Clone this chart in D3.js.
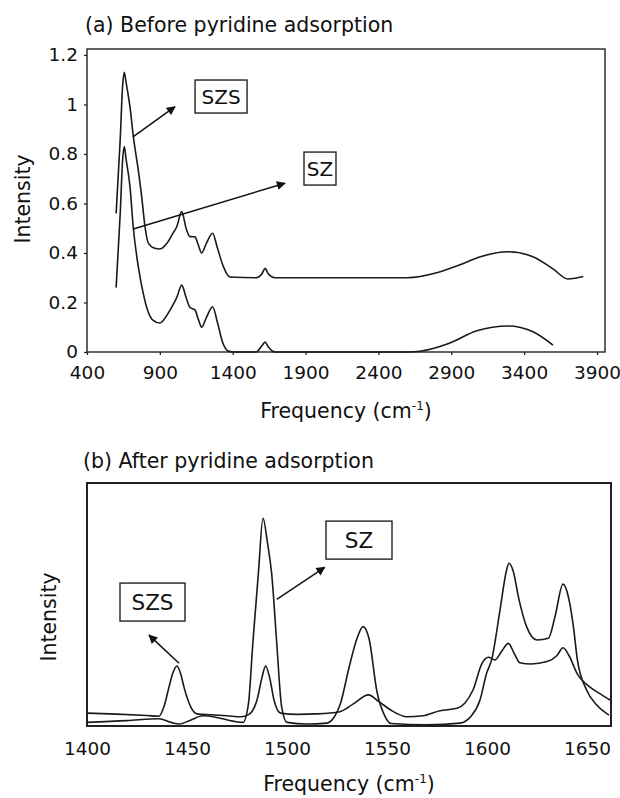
<!DOCTYPE html>
<html>
<head>
<meta charset="utf-8">
<script src="https://cdn.jsdelivr.net/npm/d3@7"></script>
<style>
  body { margin: 0; background: #fff; }
  svg { display: block; font-family: "DejaVu Sans", sans-serif; }
</style>
</head>
<body>
<div id="canvas"></div>
<script>
"use strict";

/* === Data: (a) before pyridine adsorption, [frequency, intensity] === */
let szBefore = [
  [600, 0.26], [628, 0.56], [645, 0.78], [656, 0.83], [668, 0.78], [695, 0.668],
  [718, 0.50], [752, 0.345], [786, 0.237], [810, 0.18], [850, 0.13], [901, 0.117],
  [950, 0.15], [990, 0.19], [1016, 0.22], [1050, 0.27], [1080, 0.22], [1107, 0.18],
  [1141, 0.17], [1165, 0.13], [1187, 0.10], [1220, 0.14], [1262, 0.183], [1295, 0.12],
  [1330, 0.04], [1365, 0.005], [1400, 0], [1560, 0], [1600, 0.025], [1622, 0.04],
  [1645, 0.02], [1690, 0], [2600, 0], [2685, 0.003], [2891, 0.036], [3075, 0.086],
  [3290, 0.105], [3461, 0.082], [3598, 0.028]
];

let szsBefore = [
  [600, 0.56], [628, 0.86], [645, 1.08], [656, 1.13], [668, 1.09], [695, 0.99],
  [718, 0.87], [752, 0.735], [775, 0.63], [798, 0.506], [821, 0.44], [860, 0.42],
  [901, 0.416], [950, 0.44], [990, 0.48], [1016, 0.506], [1050, 0.567], [1080, 0.50],
  [1107, 0.466], [1141, 0.465], [1165, 0.43], [1187, 0.40], [1220, 0.44], [1262, 0.48],
  [1295, 0.42], [1336, 0.345], [1381, 0.303], [1560, 0.30], [1600, 0.315], [1622, 0.338],
  [1645, 0.315], [1690, 0.30], [2600, 0.30], [2800, 0.32], [2950, 0.35], [3100, 0.385],
  [3290, 0.405], [3460, 0.385], [3600, 0.335], [3700, 0.295], [3750, 0.298], [3806, 0.305]
];

/* === Data: (b) after pyridine adsorption, [frequency, intensity (a.u.)] === */
let szAfter = [
  [1400, 1.5], [1420, 2.2], [1436, 3.0], [1442, 1.5], [1446, 0.8], [1452, 2.5],
  [1458, 4.2], [1465, 3.5], [1473, 2], [1478, 1.5], [1480.7, 9], [1483, 35],
  [1485.7, 63], [1488, 85.5], [1490.3, 75], [1492.3, 63], [1494.8, 35], [1497.3, 8],
  [1500, 1.5], [1510, 0.8], [1520, 1.2], [1523, 3], [1527, 10], [1531, 24], [1535, 36],
  [1538, 40.9], [1541, 36], [1545, 14], [1549, 4], [1552, 1], [1570, 0.5], [1586.5, 1.2],
  [1592, 4], [1596.5, 10.7], [1599.8, 21.7], [1602.3, 27.2], [1606.5, 47.7], [1609.8, 64.2],
  [1611, 67], [1613, 64], [1616, 52], [1619.8, 40.9], [1625, 35.4], [1630.7, 36.1],
  [1634, 45], [1638, 58.4], [1641, 52], [1643.2, 40.9], [1645.2, 27.2], [1649.8, 14.8],
  [1655, 8.5], [1661, 4.5]
];

let szsAfter = [
  [1400, 5.3], [1415, 4.9], [1430, 4.3], [1436, 4.0], [1438.5, 8], [1441, 16], [1443, 22],
  [1445, 24.7], [1447, 21], [1448.5, 16], [1451.8, 8], [1455, 5], [1462, 4.6], [1470, 4.2],
  [1477, 3.8], [1481, 4.8], [1485, 10.7], [1487.5, 20], [1489.3, 24.7], [1491.3, 20],
  [1493.5, 10.7], [1496.8, 5.3], [1505, 4.8], [1515, 5], [1526.5, 5.9], [1533, 9],
  [1540.7, 12.8], [1546, 10], [1552, 6.5], [1560, 3.8], [1568, 4.2], [1576.5, 6.3],
  [1585, 7.3], [1589, 9.5], [1593, 14.8], [1597.5, 25.8], [1600.7, 28.3], [1604, 27.2],
  [1607.5, 31], [1610.7, 34], [1613.5, 30], [1616.5, 26], [1622, 25.5], [1630, 26.5],
  [1635, 29], [1638, 32.2], [1641, 29], [1645, 21.7], [1651.5, 16], [1656, 13.5],
  [1661.5, 10.7]
];

/* === Tick labels === */
let xTicksA = [400, 900, 1400, 1900, 2400, 2900, 3400, 3900];
let yTicksA = [0, 0.2, 0.4, 0.6, 0.8, 1, 1.2];
let xTicksB = [1400, 1450, 1500, 1550, 1600, 1650];

/* === Series names and panel titles === */
let seriesNames = ["SZ", "SZS"];
let titles = ["(a) Before pyridine adsorption", "(b) After pyridine adsorption"];

let svgWidth = 620;
let svgHeight = 798;

let svg = d3.select("#canvas")
  .append("svg")
  .attr("width", svgWidth)
  .attr("height", svgHeight);

svg.append("defs").append("marker")
  .attr("id", "head")
  .attr("viewBox", "0 0 10 10")
  .attr("refX", 9)
  .attr("refY", 5)
  .attr("markerWidth", 10)
  .attr("markerHeight", 9)
  .attr("markerUnits", "userSpaceOnUse")
  .attr("orient", "auto")
  .append("path")
  .attr("d", "M0,0 L10,5 L0,10 Z")
  .attr("fill", "#111");

/* === Scales === */
let xA = d3.scaleLinear().domain([400, 3955]).range([87, 605]);
let yA = d3.scaleLinear().domain([0, 1.224]).range([352, 49]);
let xB = d3.scaleLinear().domain([1400, 1662]).range([87, 611]);
let yB = d3.scaleLinear().domain([0, 100]).range([726, 483]);

function drawPanel(opt) {
  let x = opt.x, y = opt.y;
  let [x0, x1] = x.range();
  let [y0, y1] = y.range();

  // frame
  svg.append("rect")
    .attr("x", x0).attr("y", y1)
    .attr("width", x1 - x0).attr("height", y0 - y1)
    .attr("fill", "none")
    .attr("stroke", "#222")
    .attr("stroke-width", opt.frameWidth);

  // x axis
  let gx = svg.append("g")
    .attr("transform", `translate(0, ${y0})`)
    .call(d3.axisBottom(x).tickValues(opt.xTicks).tickFormat(d3.format("d"))
      .tickSize(opt.tickSize).tickSizeOuter(0).tickPadding(opt.xPad));
  gx.select(".domain").remove();

  if (opt.yTicks) {
    let gy = svg.append("g")
      .attr("transform", `translate(${x0}, 0)`)
      .call(d3.axisLeft(y).tickValues(opt.yTicks).tickFormat(d3.format("~g"))
        .tickSize(opt.tickSize).tickSizeOuter(0).tickPadding(6));
    gy.select(".domain").remove();
  }

  svg.selectAll("g.tick text")
    .attr("font-family", "DejaVu Sans, sans-serif")
    .attr("font-size", "18.5px")
    .attr("fill", "#111");
  svg.selectAll("g.tick line").attr("stroke", "#222").attr("stroke-width", 1.3);

  // curves
  let line = d3.line()
    .x(d => x(d[0]))
    .y(d => y(d[1]))
    .curve(d3.curveMonotoneX);

  opt.series.forEach(s => {
    svg.append("path")
      .attr("d", line(s))
      .attr("fill", "none")
      .attr("stroke", "#1a1a1a")
      .attr("stroke-width", 1.6)
      .attr("stroke-linejoin", "round");
  });

  // boxed series names with arrows
  opt.labels.forEach(l => {
    svg.append("line")
      .attr("x1", x(l.from[0])).attr("y1", y(l.from[1]))
      .attr("x2", x(l.to[0])).attr("y2", y(l.to[1]))
      .attr("stroke", "#111")
      .attr("stroke-width", 1.5)
      .attr("marker-end", "url(#head)");

    let cx = x(l.at[0]), cy = y(l.at[1]);
    svg.append("rect")
      .attr("x", cx - l.size[0] / 2)
      .attr("y", cy - l.size[1] / 2)
      .attr("width", l.size[0])
      .attr("height", l.size[1])
      .attr("fill", "#fff")
      .attr("stroke", "#222")
      .attr("stroke-width", 1.4);

    svg.append("text")
      .attr("x", cx)
      .attr("y", cy)
      .attr("text-anchor", "middle")
      .attr("dominant-baseline", "central")
      .attr("font-size", opt.boxFont)
      .attr("fill", "#111")
      .text(l.text);
  });

  // titles
  svg.append("text")
    .attr("x", opt.title.x)
    .attr("y", opt.title.y)
    .attr("font-size", "20.5px")
    .attr("fill", "#111")
    .text(opt.title.text);

  svg.append("text")
    .attr("transform", `translate(${opt.yLabel.x}, ${opt.yLabel.y}) rotate(-90)`)
    .attr("text-anchor", "middle")
    .attr("font-size", "20.5px")
    .attr("fill", "#111")
    .text("Intensity");

  let xl = svg.append("text")
    .attr("x", (x0 + x1) / 2)
    .attr("y", opt.xLabelY)
    .attr("text-anchor", "middle")
    .attr("font-size", "20.5px")
    .attr("fill", "#111");
  xl.append("tspan").text("Frequency (cm");
  xl.append("tspan").attr("font-size", "12px").attr("dy", "-8").text("-1");
  xl.append("tspan").attr("dy", "8").text(")");
}

drawPanel({
  x: xA, y: yA,
  xTicks: xTicksA, yTicks: yTicksA,
  tickSize: 3, xPad: 11, frameWidth: 1.4,
  series: [szBefore, szsBefore],
  labels: [
    { text: seriesNames[1], at: [1320, 1.032], size: [52, 33], from: [718, 0.87], to: [1004, 0.991] },
    { text: seriesNames[0], at: [1999, 0.741], size: [32, 33], from: [718, 0.497], to: [1759, 0.682] }
  ],
  boxFont: "20px",
  title: { text: titles[0], x: 85, y: 32 },
  yLabel: { x: 30, y: 199 },
  xLabelY: 418
});

drawPanel({
  x: xB, y: yB,
  xTicks: xTicksB, yTicks: null,
  tickSize: 0, xPad: 16, frameWidth: 2,
  series: [szAfter, szsAfter],
  labels: [
    { text: seriesNames[1], at: [1432.75, 51], size: [65, 38], from: [1446, 25.8], to: [1431, 37.4] },
    { text: seriesNames[0], at: [1536, 76.5], size: [66, 38], from: [1494.85, 52.1], to: [1518.85, 65.3] }
  ],
  boxFont: "21.5px",
  title: { text: titles[1], x: 83, y: 468 },
  yLabel: { x: 56, y: 617 },
  xLabelY: 791
});
</script>
</body>
</html>
